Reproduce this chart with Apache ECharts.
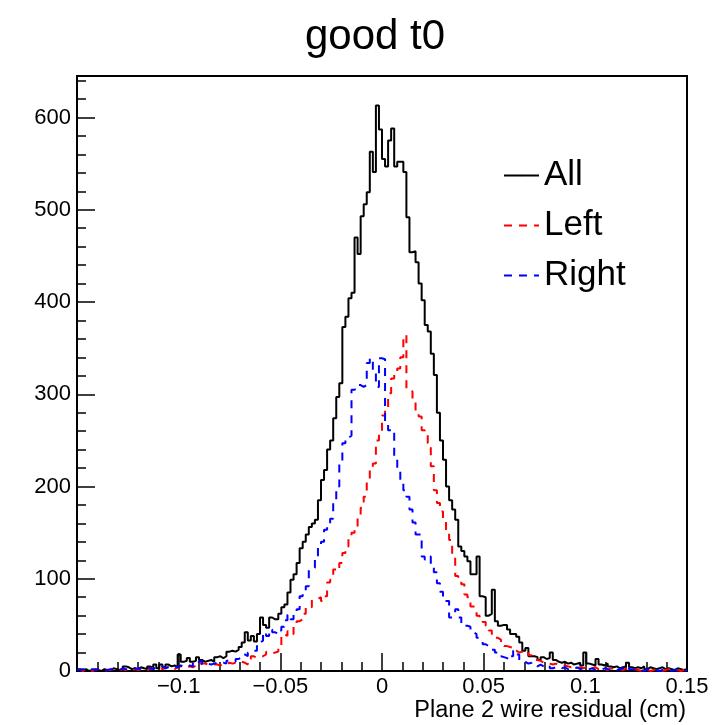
<!DOCTYPE html>
<html>
<head>
<meta charset="utf-8">
<script src="https://cdn.jsdelivr.net/npm/echarts@6/dist/echarts.min.js"></script>
<style>
  html, body { margin: 0; padding: 0; background: #fff; }
  #chart { width: 714px; height: 725px; }
</style>
</head>
<body>
<div id="chart"></div>
<script>
// histogram binning: 200 bins from -0.15 to 0.15
var binLow = -0.15;
var binWidth = 0.0015;

var allCounts = [
  2, 1, 2, 0, 1, 2, 1, 0, 2, 1, 1, 3, 2, 1, 2, 5, 4, 2, 3, 2,
  4, 3, 2, 5, 3, 7, 3, 7, 4, 7, 5, 6, 4, 18, 10, 11, 14, 10, 11, 15,
  12, 10, 11, 12, 10, 15, 16, 14, 16, 21, 22, 21, 23, 26, 31, 42, 33, 38, 32, 40,
  58, 50, 47, 58, 56, 56, 62, 69, 72, 85, 99, 105, 117, 133, 140, 148, 156, 160, 164, 185,
  207, 218, 240, 250, 274, 297, 312, 373, 384, 404, 410, 470, 452, 493, 506, 519, 563, 541, 613, 587,
  555, 547, 575, 588, 547, 552, 552, 541, 492, 454, 455, 443, 420, 402, 375, 368, 344, 321, 280, 250,
  229, 200, 185, 175, 164, 135, 130, 124, 119, 105, 105, 124, 81, 80, 60, 62, 88, 54, 49, 50,
  50, 45, 40, 40, 37, 31, 22, 25, 16, 16, 15, 12, 15, 13, 14, 20, 12, 10, 9, 10,
  8, 9, 7, 8, 9, 6, 20, 8, 7, 6, 13, 7, 6, 8, 5, 4, 5, 3, 4, 5,
  9, 4, 3, 4, 3, 5, 2, 4, 3, 2, 3, 4, 2, 3, 2, 1, 3, 2, 1, 2
];

var leftCounts = [
  1, 0, 2, 1, 0, 1, 2, 1, 0, 1, 1, 2, 0, 1, 2, 1, 3, 1, 2, 1,
  2, 3, 1, 2, 3, 2, 4, 2, 3, 5, 3, 2, 4, 5, 3, 4, 5, 4, 6, 5,
  8, 8, 7, 6, 7, 7, 6, 8, 7, 9, 8, 9, 8, 10, 9, 7, 13, 16, 14, 15,
  16, 18, 21, 19, 20, 21, 28, 40, 38, 43, 40, 50, 54, 56, 62, 70, 69, 77, 78, 80,
  76, 81, 96, 99, 110, 108, 117, 128, 135, 146, 150, 156, 168, 177, 189, 207, 218, 225, 250, 259,
  277, 286, 301, 317, 324, 328, 340, 364, 305, 303, 294, 280, 276, 261, 258, 247, 222, 196, 182, 173,
  162, 150, 142, 124, 103, 99, 94, 83, 80, 70, 69, 60, 56, 53, 49, 44, 40, 36, 34, 30,
  27, 26, 25, 22, 20, 21, 18, 20, 17, 15, 12, 11, 9, 10, 8, 7, 8, 6, 5, 6,
  5, 4, 5, 3, 4, 3, 4, 2, 3, 4, 2, 3, 2, 1, 3, 2, 1, 2, 1, 2,
  3, 1, 2, 1, 0, 2, 1, 0, 1, 2, 1, 0, 1, 2, 1, 0, 1, 0, 1, 1
];

var rightCounts = [
  1, 2, 0, 1, 2, 1, 2, 1, 0, 1, 2, 1, 2, 1, 3, 2, 1, 2, 3, 2,
  3, 2, 4, 3, 2, 4, 3, 5, 3, 4, 3, 5, 4, 6, 5, 4, 6, 5, 11, 10,
  11, 7, 8, 7, 8, 9, 8, 9, 8, 11, 11, 10, 13, 15, 18, 16, 20, 22, 22, 31,
  33, 42, 38, 45, 42, 40, 44, 48, 55, 61, 56, 64, 67, 81, 86, 92, 110, 112, 125, 135,
  140, 153, 160, 165, 182, 200, 225, 247, 253, 255, 305, 306, 310, 308, 310, 334, 339, 326, 308, 339,
  338, 268, 261, 262, 229, 220, 205, 196, 189, 175, 161, 148, 148, 124, 121, 124, 113, 107, 95, 86,
  80, 76, 58, 60, 67, 58, 49, 49, 48, 42, 40, 36, 34, 29, 27, 26, 23, 20, 16, 15,
  14, 12, 16, 22, 18, 11, 10, 8, 9, 6, 5, 7, 5, 4, 6, 3, 4, 5, 3, 4,
  2, 3, 2, 4, 2, 3, 1, 2, 3, 1, 2, 1, 3, 2, 1, 2, 1, 2, 3, 4,
  6, 2, 1, 2, 1, 0, 2, 1, 2, 1, 0, 1, 2, 1, 0, 1, 2, 1, 0, 1
];

var seriesNames = ['All', 'Left', 'Right'];
var xAxisTitle = 'Plane 2 wire residual (cm)';
var font = 'Liberation Sans, Arial, Helvetica, sans-serif';

// turn bin contents into [edge, value] points for a step line
function toSteps(counts) {
  var pts = [];
  for (var i = 0; i < counts.length; i++) {
    pts.push([binLow + i * binWidth, counts[i]]);
  }
  pts.push([binLow + counts.length * binWidth, counts[counts.length - 1]]);
  return pts;
}

function histSeries(name, counts, color, dash) {
  return {
    name: name,
    type: 'line',
    step: 'end',
    symbol: 'none',
    clip: true,
    data: toSteps(counts),
    itemStyle: { color: color },
    lineStyle: { color: color, width: 2, type: dash }
  };
}

var myChart = echarts.init(document.getElementById('chart'));

myChart.setOption({
  animation: false,
  backgroundColor: '#fff',
  title: [
    {
      text: 'good t0',
      left: 305,
      top: 16,
      padding: 0,
      textStyle: { fontSize: 42, fontWeight: 'normal', color: '#000', fontFamily: font }
    },
    {
      // x axis title, right aligned to the frame
      text: xAxisTitle,
      right: 28,
      top: 699,
      padding: 0,
      textStyle: { fontSize: 23.5, fontWeight: 'normal', color: '#000', fontFamily: font }
    }
  ],
  legend: {
    orient: 'vertical',
    left: 503,
    top: 158,
    padding: 0,
    itemWidth: 35,
    itemHeight: 2,
    itemGap: 15,
    data: seriesNames,
    textStyle: { fontSize: 35, color: '#000', fontFamily: font }
  },
  grid: {
    left: 77,
    right: 27,
    top: 76,
    bottom: 54,
    outerBoundsMode: 'none',
    containLabel: false,
    show: true,
    borderColor: '#000',
    borderWidth: 2
  },
  xAxis: {
    type: 'value',
    min: -0.15,
    max: 0.15,
    interval: 0.05,
    axisLine: { onZero: false, lineStyle: { color: '#000', width: 2 } },
    axisTick: { inside: true, length: 18, lineStyle: { color: '#000', width: 1.5 } },
    minorTick: { show: true, splitNumber: 5, length: 9, lineStyle: { color: '#000', width: 1.5 } },
    splitLine: { show: false },
    axisLabel: {
      color: '#000',
      fontSize: 22,
      fontFamily: font,
      margin: 5,
      showMinLabel: true,
      showMaxLabel: true,
      formatter: function (v) {
        var r = Math.round(v * 1000) / 1000;
        if (Math.abs(r + 0.15) < 1e-9) return '';
        return (r < 0 ? '\u2212' : '') + String(Math.abs(r));
      }
    }
  },
  yAxis: [
    {
      type: 'value',
      min: 0,
      max: 645,
      interval: 100,
      axisLine: { show: true, onZero: false, lineStyle: { color: '#000', width: 2 } },
      axisTick: { show: true, inside: true, length: 18, lineStyle: { color: '#000', width: 1.5 } },
      splitLine: { show: false },
      axisLabel: {
        color: '#000',
        fontSize: 22,
        fontFamily: font,
        margin: 6,
        formatter: function (v) { return v % 100 === 0 ? String(v) : ''; }
      }
    },
    {
      // minor ticks every 20
      type: 'value',
      min: 0,
      max: 645,
      interval: 20,
      position: 'left',
      axisLine: { show: false, onZero: false },
      axisTick: { show: true, inside: true, length: 9, lineStyle: { color: '#000', width: 1.5 } },
      axisLabel: { show: false },
      splitLine: { show: false }
    }
  ],
  series: [
    histSeries('All', allCounts, '#000000', 'solid'),
    histSeries('Left', leftCounts, '#ff0000', [8, 7]),
    histSeries('Right', rightCounts, '#0000ff', [8, 7])
  ]
});
</script>
</body>
</html>
